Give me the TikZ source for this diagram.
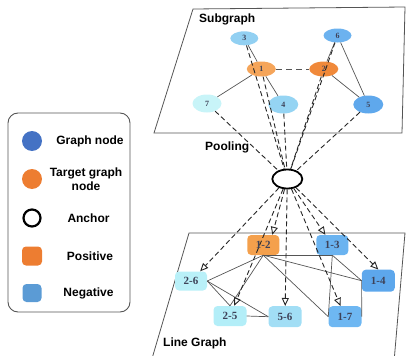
\documentclass[tikz,border=0pt]{standalone}
\usepackage{fontspec}
\setmainfont{Liberation Sans}
\newfontfamily\numfont{Liberation Serif}
\usetikzlibrary{shapes.geometric,arrows.meta,calc}

\definecolor{gnode}{HTML}{4472C4}
\definecolor{tnode}{HTML}{ED7D31}
\definecolor{negc}{HTML}{5B9BD5}
\definecolor{edgec}{HTML}{555555}
\definecolor{numc}{HTML}{3E4258}
\definecolor{cA}{HTML}{92D0F2}
\definecolor{cB}{HTML}{6CB2EF}
\definecolor{cC}{HTML}{F5A55A}
\definecolor{cD}{HTML}{F0893A}
\definecolor{cE}{HTML}{C8F4F8}
\definecolor{cF}{HTML}{95D4F3}
\definecolor{cG}{HTML}{5FA8EC}
\definecolor{dA}{HTML}{F4A04C}
\definecolor{dB}{HTML}{6AB3F0}
\definecolor{dC}{HTML}{B9F0F8}
\definecolor{dD}{HTML}{5DA7EC}
\definecolor{dE}{HTML}{B3EEF8}
\definecolor{dF}{HTML}{A2DEF5}
\definecolor{dG}{HTML}{6EB7F2}

\tikzset{
  plane/.style={draw=edgec, line width=0.8pt},
  title/.style={font=\bfseries\fontsize{12}{13}\selectfont, inner sep=0pt},
  vtx/.style={ellipse, inner sep=0pt, minimum width=29pt, minimum height=15pt,
    font=\numfont\bfseries\fontsize{8}{9}\selectfont, text=numc},
  lgnode/.style={rectangle, rounded corners=4pt, inner sep=0pt, minimum width=32pt,
    minimum height=20pt, font=\numfont\bfseries\fontsize{11}{12}\selectfont, text=numc},
  sedge/.style={draw=edgec, line width=0.7pt},
  pool/.style={draw=black!85, line width=0.9pt, dash pattern=on 5pt off 3pt},
  poolarrow/.style={pool, -{Triangle[open, length=8pt, width=7pt]}},
  legtext/.style={font=\bfseries\fontsize{12}{13.5}\selectfont, align=center, inner sep=0pt},
}

\begin{document}
\begin{tikzpicture}[x=1pt, y=-1pt]
\useasboundingbox (0,0) rectangle (407,356);
\clip (0,0) rectangle (407,356);

% legend
\draw[draw=edgec, line width=0.9pt, rounded corners=10pt] (8,113) rectangle (130,312);
\fill[gnode] (32,141) circle (10);
\node[legtext] (lgA) at (90,141) {Graph node};
\fill[tnode] (32,179) circle (10);
\node[legtext] (lgB) at (86,179) {Target graph\\node};
\draw[black, line width=2.2pt] (32,218) circle (8.5);
\node[legtext] (lgC) at (88.5,218) {Anchor};
\fill[tnode, rounded corners=4pt] (22,246.5) rectangle (42,265.5);
\node[legtext] (lgD) at (90,256) {Positive};
\fill[negc, rounded corners=4pt] (22.5,284) rectangle (41.5,302);
\node[legtext] (lgE) at (88.5,293) {Negative};

% upper plane
\draw[plane] (193,9) -- (405,7) -- (402,133) -- (154,133) -- cycle;
\node[title, anchor=west] (tsub) at (199,19) {Subgraph};

% lower plane
\draw[plane] (151,362) -- (189,233) -- (405,233) -- (394,362);
\node[title, anchor=west] (tline) at (163,343) {Line Graph};

\node[title, anchor=west] (tpool) at (205,147) {Pooling};

% subgraph vertices
\node[vtx, fill=cA, minimum width=28pt, minimum height=14pt] (v3) at (244.3,38.3) {3};
\node[vtx, fill=cB, minimum width=28pt, minimum height=14pt] (v6) at (337.5,35.5) {6};
\node[vtx, fill=cC] (v1) at (261.3,69) {1};
\node[vtx, fill=cD] (v2) at (323.8,69) {2};
\node[vtx, fill=cE, minimum width=29pt, minimum height=18pt] (v7) at (207,103.5) {7};
\node[vtx, fill=cF, minimum width=30pt, minimum height=18pt] (v4) at (283.3,104.5) {4};
\node[vtx, fill=cG, minimum width=30pt, minimum height=18pt] (v5) at (368.3,104.5) {5};

% subgraph edges
\draw[sedge] (v1) -- (v7);
\draw[sedge] (v1) -- (v4);
\draw[sedge] (v1) -- (v3);
\draw[sedge] (v2) -- (v6);
\draw[sedge] (v2) -- (v5);
\draw[sedge] (v6) -- (v5);
\draw[draw=edgec, line width=0.9pt, dash pattern=on 6pt off 4pt] (v1) -- (v2);

% anchor
\node[ellipse, draw=black, line width=1.8pt, minimum width=30pt, minimum height=19pt, inner sep=0pt] (anc) at (287.3,179) {};

% pooling lines into the anchor
\foreach \v in {v7,v3,v1,v4,v2,v6,v5}
  \draw[pool] (\v) -- (anc);

% line graph vertices
\node[lgnode, fill=dA] (l12) at (263.3,245) {1-2};
\node[lgnode, fill=dB] (l13) at (332.3,245) {1-3};
\node[lgnode, fill=dC, minimum height=19pt] (l26) at (191,281) {2-6};
\node[lgnode, fill=dD, minimum width=33pt, minimum height=22pt] (l14) at (378.3,280.7) {1-4};
\node[lgnode, fill=dE, minimum width=33pt] (l25) at (230,316) {2-5};
\node[lgnode, fill=dF, minimum width=33pt, minimum height=21pt] (l56) at (285,316.7) {5-6};
\node[lgnode, fill=dG, minimum width=33pt, minimum height=21pt] (l17) at (345,316.7) {1-7};

% line graph edges
\draw[sedge] (l12.south) -- (l13.south);
\draw[sedge] (l12.south) -- (l26.east);
\draw[sedge] (l12.south) -- (l25.north);
\draw[sedge] (l12.south) -- (l14.west);
\draw[sedge] (l12.south) -- (l17.west);
\draw[sedge] (l13.south) -- (l17.west);
\draw[sedge] (l13.south) -- (l14.west);
\draw[sedge] (l14.west) -- (l17.east);
\draw[sedge] (l26.east) -- (l25.north);
\draw[sedge] (l26.east) -- (l56.west);
\draw[sedge] (l25.east) -- (l56.west);

% anchor to line graph vertices
\draw[poolarrow] (anc) -- (l26);
\draw[poolarrow] (anc) -- ($(l12.north)+(9,0)$);
\draw[poolarrow] (anc) -- (l25);
\draw[poolarrow] (anc) -- (l56);
\draw[poolarrow] (anc) -- (l13);
\draw[poolarrow] (anc) -- (l17);
\draw[poolarrow] (anc) -- (l14.north);
\end{tikzpicture}
\end{document}
